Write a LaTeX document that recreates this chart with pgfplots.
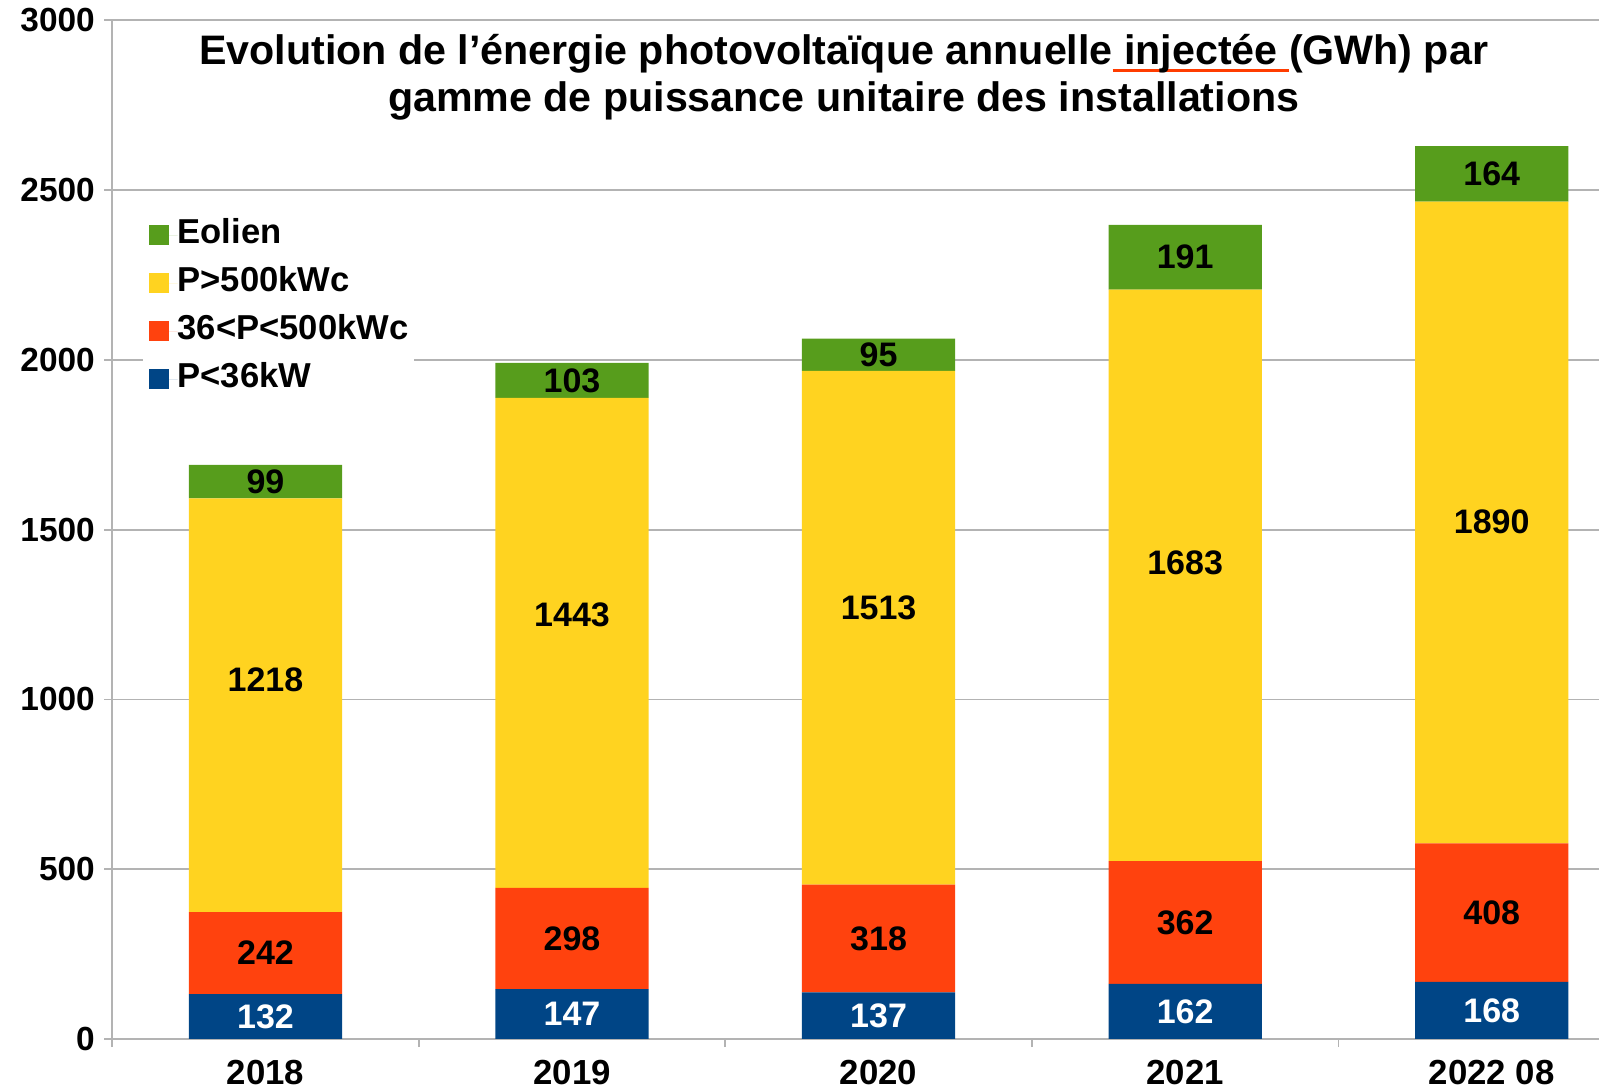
\documentclass[border=0pt]{standalone}
\usepackage{fontspec}
\setmainfont{Liberation Sans}
\usepackage{pgfplots}
\pgfplotsset{compat=1.18}
\definecolor{cEol}{HTML}{579D1C}
\definecolor{cBig}{HTML}{FFD320}
\definecolor{cMid}{HTML}{FF420E}
\definecolor{cSmall}{HTML}{004586}
\definecolor{axgray}{HTML}{B3B3B3}
\definecolor{ulred}{HTML}{FF3C00}
\newsavebox\ulbox
\newcommand\redul[1]{\sbox\ulbox{#1}\rlap{\textcolor{ulred}{\rule[-3.4bp]{\wd\ulbox}{1.2bp}}}\usebox\ulbox}
\pgfplotsset{
  geom/.style={
    at={(56.1bp,24.5bp)}, anchor=south west,
    scale only axis, width=743.4bp, height=509.3bp,
    xmin=-0.5, xmax=4.35, ymin=0, ymax=3000,
  },
}
\begin{document}
\begin{tikzpicture}
\useasboundingbox (0,0) rectangle (799.5bp,544bp);
\begin{axis}[
  geom,
  ybar stacked, bar width=0.5,
  ytick={0,500,...,3000},
  xtick={0,1,2,3,4},
  xticklabels={2018,2019,2020,2021,2022 08},
  extra x ticks={-0.5,0.5,1.5,2.5,3.5},
  extra x tick labels={},
  extra x tick style={xtick style={draw=axgray, line width=0.9bp}},
  xtick style={draw=none},
  ytick style={draw=axgray, line width=0.9bp},
  major tick length=4bp,
  tick align=outside,
  axis x line*=bottom, axis y line*=left,
  axis line style={draw=axgray, line width=0.9bp, -},
  ymajorgrids,
  major grid style={draw=axgray, line width=0.9bp},
  /pgf/number format/assume math mode=true,
  /pgf/number format/1000 sep={},
  yticklabel style={font=\fontsize{16.7bp}{19bp}\selectfont\bfseries, anchor=east, inner sep=0pt, xshift=-4.5bp},
  xticklabel style={font=\fontsize{17.4bp}{20bp}\selectfont\bfseries, anchor=center, inner sep=0pt, yshift=-13bp},
  title={Evolution de l’énergie photovoltaïque annuelle\redul{\ injectée\ }(GWh) par\\gamme de puissance unitaire des installations},
  title style={at={(axis description cs:0.492,0.9325)}, anchor=center, align=center,
    font=\fontsize{20.6bp}{23.2bp}\selectfont\bfseries},
  reverse legend,
  legend cell align=left,
  legend image code/.code={\fill[#1] (0bp,-5bp) rectangle (10bp,5bp); \path (0bp,0bp) -- (14.1bp,0bp);},
  legend style={at={(rel axis cs:0.0207,0.8087)}, anchor=north west,
    fill=white, draw=none, inner xsep=3bp, inner ysep=2bp,
    font=\fontsize{17.3bp}{20bp}\selectfont\bfseries,
    row sep=8.5bp,
    nodes={inner sep=0pt, text height=12bp, text depth=3.5bp}},
]
\addplot[fill=cSmall, draw=none] coordinates {(0,132) (1,147) (2,137) (3,162) (4,168)};
\addplot[fill=cMid, draw=none] coordinates {(0,242) (1,298) (2,318) (3,362) (4,408)};
\addplot[fill=cBig, draw=none] coordinates {(0,1218) (1,1443) (2,1513) (3,1683) (4,1890)};
\addplot[fill=cEol, draw=none] coordinates {(0,99) (1,103) (2,95) (3,191) (4,164)};
\legend{P<36kW, 36<P<500kWc, P>500kWc, Eolien}
\end{axis}
\begin{axis}[
  geom, axis lines=none, clip=false,
  nodes near coords,
  point meta=explicit symbolic,
  every node near coord/.append style={font=\fontsize{17bp}{20bp}\selectfont\bfseries,
    anchor=center, inner sep=0pt},
]
% value labels, at the heights where the reference shows them
\addplot[draw=none, mark=none, every node near coord/.append style={text=white}] coordinates {(0,66)[132] (1,73.5)[147] (2,68.5)[137] (3,81)[162] (4,84)[168]};
\addplot[draw=none, mark=none] coordinates {(0,253)[242] (1,296)[298] (2,296)[318] (3,343)[362] (4,372)[408]};
\addplot[draw=none, mark=none] coordinates {(0,1059)[1218] (1,1248)[1443] (2,1269)[1513] (3,1403)[1683] (4,1524)[1890]};
\addplot[draw=none, mark=none] coordinates {(0,1641.5)[99] (1,1939.5)[103] (2,2015.5)[95] (3,2302.5)[191] (4,2548)[164]};
\end{axis}
\end{tikzpicture}
\end{document}
